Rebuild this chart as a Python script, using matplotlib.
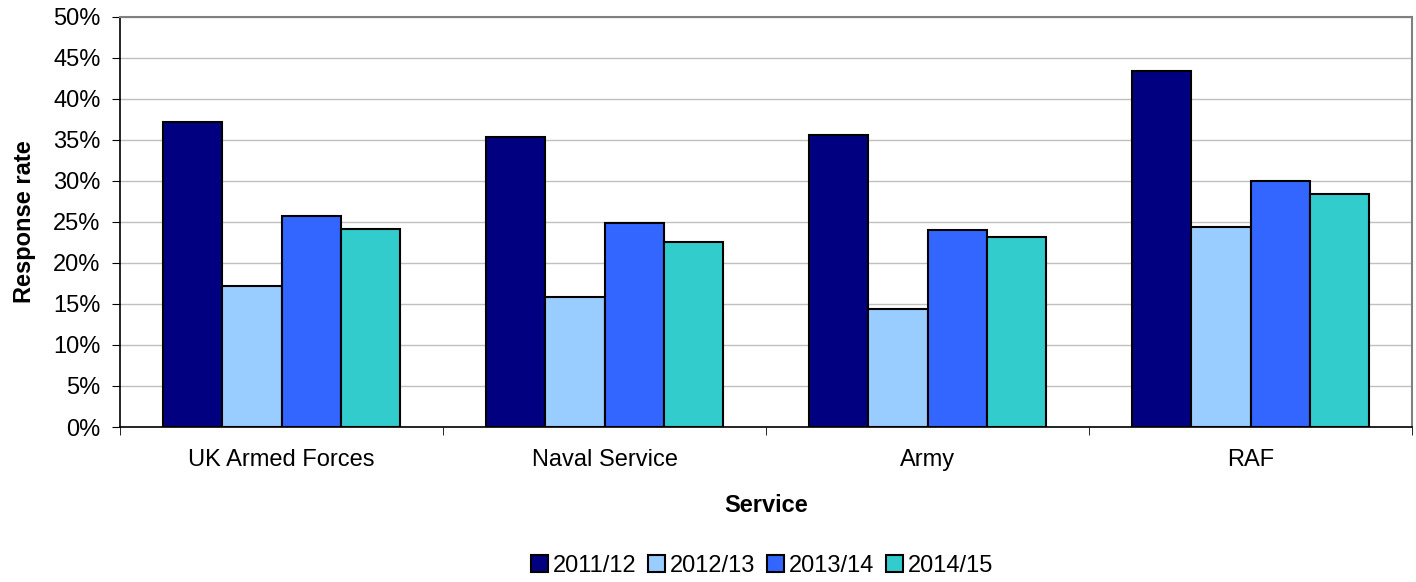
import matplotlib
matplotlib.use("Agg")
import matplotlib.pyplot as plt
import numpy as np
from matplotlib.ticker import FixedLocator

plt.rcParams['font.family'] = ['Liberation Sans', 'DejaVu Sans']

categories = ["UK Armed Forces", "Naval Service", "Army", "RAF"]
series_names = ["2011/12", "2012/13", "2013/14", "2014/15"]
v2011 = [37.2, 35.4, 35.6, 43.4]
v2012 = [17.2, 15.8, 14.4, 24.4]
v2013 = [25.7, 24.9, 24.0, 30.0]
v2014 = [24.1, 22.5, 23.2, 28.4]
series = [v2011, v2012, v2013, v2014]
colors = ["#000080", "#99CCFF", "#3366FF", "#33CCCC"]
yticks = list(range(0, 51, 5))

W, H = 1416, 582
fig = plt.figure(figsize=(W/100, H/100), dpi=100)
ax = fig.add_axes([120/W, 1-427/H, (1412-120)/W, (427-17)/H])

x = np.arange(len(categories))
bw = 0.183
for i, (vals, c, name) in enumerate(zip(series, colors, series_names)):
    ax.bar(x + (i - 1.5) * bw, vals, bw, color=c, edgecolor="black", linewidth=1.5, label=name, zorder=3)

ax.set_xlim(-0.5, len(categories) - 0.5)
ax.set_ylim(0, 50)
ax.set_yticks(yticks)
ax.set_yticklabels([f"{t}%" for t in yticks], fontsize=17)
ax.yaxis.grid(True, color="#c0c0c0", linewidth=1, zorder=0)
ax.set_axisbelow(True)

ax.set_xticks(x)
ax.set_xticklabels(categories, fontsize=17)
ax.tick_params(axis='x', which='major', length=0, pad=16)
ax.xaxis.set_minor_locator(FixedLocator(np.arange(-0.5, len(categories), 1.0)))
ax.tick_params(axis='x', which='minor', length=6, color="black", direction="out")
ax.tick_params(axis='y', length=6, color="black", direction="out", pad=8)

for s in ["top", "right"]:
    ax.spines[s].set_color("#808080")
    ax.spines[s].set_linewidth(1.5)
for s in ["left", "bottom"]:
    ax.spines[s].set_color("black")
    ax.spines[s].set_linewidth(1.2)

fig.text(25/W, 1-222/H, "Response rate", fontsize=17, fontweight="bold",
         rotation=90, ha="center", va="center")
fig.text(766/W, 1-505/H, "Service", fontsize=17, fontweight="bold",
         ha="center", va="center")

leg = fig.legend(loc="center", bbox_to_anchor=(762/W, 1-566/H), ncol=4, frameon=False,
                 fontsize=17, handlelength=0.72, handleheight=0.72, handletextpad=0.2,
                 columnspacing=0.5, borderpad=0.2)

fig.savefig("out.png", dpi=100)
